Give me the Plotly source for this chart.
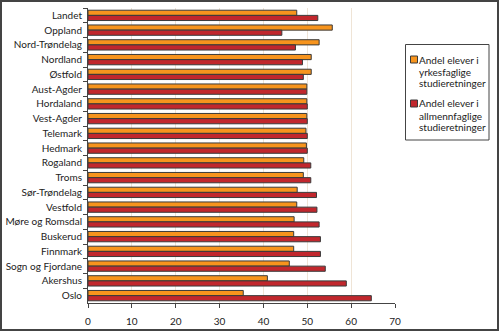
import plotly.graph_objects as go

categories = ["Landet", "Oppland", "Nord-Trøndelag", "Nordland", "Østfold", "Aust-Agder",
              "Hordaland", "Vest-Agder", "Telemark", "Hedmark", "Rogaland", "Troms",
              "Sør-Trøndelag", "Vestfold", "Møre og Romsdal", "Buskerud", "Finnmark",
              "Sogn og Fjordane", "Akershus", "Oslo"]
yrkesfaglige = [47.6, 55.7, 52.7, 50.9, 50.9, 49.9, 49.9, 49.9, 49.7, 49.8, 49.2, 49.1,
                47.7, 47.6, 47.0, 46.9, 46.9, 45.9, 40.9, 35.4]
allmennfaglige = [52.4, 44.2, 47.3, 48.9, 49.1, 49.9, 50.0, 50.0, 50.0, 50.0, 50.8, 50.8,
                  52.1, 52.2, 52.7, 53.0, 53.0, 54.1, 58.9, 64.6]
x_ticks = [0, 10, 20, 30, 40, 50, 60, 70]
legend_lines = [["Andel elever i", "yrkesfaglige", "studieretninger"],
                ["Andel elever i", "allmennfaglige", "studieretninger"]]
colors = ["#F7941D", "#C1272D"]

FONT = "Lato, sans-serif"
L, R, T, B = 88, 395, 8, 303
W, H = R - L, B - T


def px(x):
    return (x - L) / W


def py(y):
    return (B - y) / H


fig = go.Figure()
for vals, lines, col in zip([yrkesfaglige, allmennfaglige], legend_lines, colors):
    fig.add_trace(go.Bar(y=categories, x=vals, orientation="h", name=" ".join(lines),
                         showlegend=False,
                         marker=dict(color=col, line=dict(color="#3a3a3a", width=1))))

shapes = [dict(type="rect", xref="paper", yref="paper",
               x0=px(1), x1=px(498), y0=py(330), y1=py(1),
               line=dict(color="#444", width=2)),
          dict(type="rect", xref="paper", yref="paper",
               x0=px(405.5), x1=px(489), y0=py(140), y1=py(44.5),
               line=dict(color="#444", width=1))]
annotations = []
sq_tops = [56, 100]
line_ys = [[60, 72, 83.5], [103, 115.5, 127]]
for i in range(2):
    shapes.append(dict(type="rect", xref="paper", yref="paper",
                       x0=px(410.5), x1=px(417.5), y0=py(sq_tops[i] + 7), y1=py(sq_tops[i]),
                       fillcolor=colors[i], line=dict(color="#3a3a3a", width=1)))
    for txt, yy in zip(legend_lines[i], line_ys[i]):
        annotations.append(dict(xref="paper", yref="paper", x=px(418), y=py(yy),
                                xanchor="left", yanchor="middle", text=txt, showarrow=False,
                                borderpad=0,
                                font=dict(size=10, family=FONT, color="#222")))

fig.update_layout(
    width=500, height=333,
    margin=dict(l=L, r=500 - R, t=T, b=333 - B, autoexpand=False),
    paper_bgcolor="white", plot_bgcolor="white",
    barmode="group", bargap=0.3, bargroupgap=0,
    showlegend=False,
    font=dict(family=FONT, size=10, color="#222"),
    xaxis=dict(range=[0, 70], tickvals=x_ticks, showgrid=True, gridcolor="#EFE4D6",
               gridwidth=1, zeroline=False, showline=True, linecolor="#444", linewidth=1,
               ticks="outside", ticklen=4, tickcolor="#444", automargin=False,
               ticklabelstandoff=5, tickfont=dict(size=10, family=FONT)),
    yaxis=dict(autorange="reversed", showline=True, linecolor="#444", linewidth=1,
               ticks="outside", ticklen=4, tickcolor="#444", tickson="boundaries",
               automargin=False, ticklabelstandoff=3, tickfont=dict(size=10, family=FONT)),
    shapes=shapes,
    annotations=annotations,
)
fig.write_html("out.html")
